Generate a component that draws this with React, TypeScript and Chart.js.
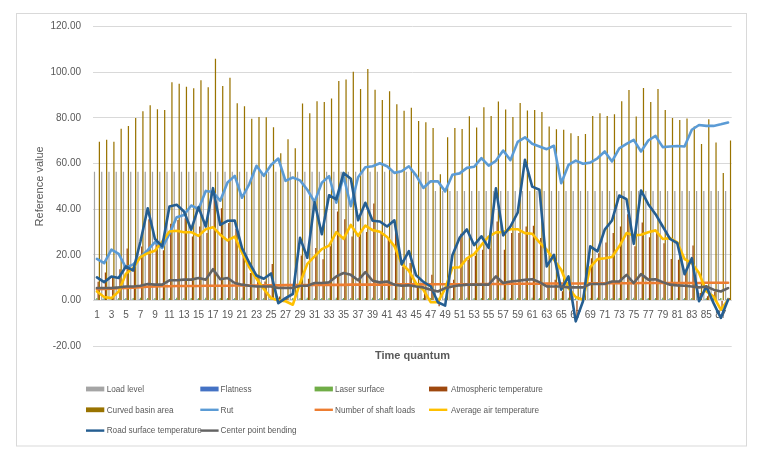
import React, { useEffect, useRef } from "react";
import { Chart, registerables } from "chart.js";
Chart.register(...registerables);

const categories = [
  "1","2","3","4","5","6","7","8","9","10","11","12","13","14","15","16","17","18","19","20",
  "21","22","23","24","25","26","27","28","29","30","31","32","33","34","35","36","37","38","39","40",
  "41","42","43","44","45","46","47","48","49","50","51","52","53","54","55","56","57","58","59","60",
  "61","62","63","64","65","66","67","68","69","70","71","72","73","74","75","76","77","78","79","80",
  "81","82","83","84","85","86","87","88",
];

const yTicks = [-20, 0, 20, 40, 60, 80, 100, 120];

const loadLevel = [
  56.4,56.4,56.4,56.4,56.4,56.4,56.4,56.4,56.4,56.4,
  56.4,56.4,56.4,56.4,56.4,56.4,56.4,56.4,56.4,56.4,
  56.4,56.4,56.4,56.4,56.4,56.4,56.4,56.4,56.4,56.4,
  56.4,56.4,56.4,56.4,56.4,56.4,56.4,56.4,56.4,56.4,
  56.4,56.4,56.4,56.4,56.4,56.4,56.4,48.0,48.0,48.0,
  48.0,48.0,48.0,48.0,48.0,48.0,48.0,48.0,48.0,48.0,
  48.0,48.0,48.0,48.0,48.0,48.0,48.0,48.0,48.0,48.0,
  48.0,48.0,48.0,48.0,48.0,48.0,48.0,48.0,48.0,48.0,
  48.0,48.0,48.0,48.0,48.0,48.0,48.0,48.0,
];

const flatness = [
  0.4,0.5,0.4,0.4,0.5,0.4,0.5,0.4,0.4,0.5,
  0.4,0.5,0.4,0.4,0.5,0.4,0.5,0.4,0.4,0.5,
  0.4,0.5,0.4,0.4,0.5,0.4,0.5,0.4,0.4,0.5,
  0.4,0.5,0.4,0.4,0.5,0.4,0.5,0.4,0.4,0.5,
  0.4,0.5,0.4,0.4,0.5,0.4,0.5,0.4,0.4,0.5,
  0.4,0.5,0.4,0.4,0.5,0.4,0.5,0.4,0.4,0.5,
  0.4,0.5,0.4,0.4,0.5,0.4,0.5,0.4,0.4,0.5,
  0.4,0.5,0.4,0.4,0.5,0.4,0.5,0.4,0.4,0.5,
  0.4,0.5,0.4,0.4,0.5,0.4,0.5,0.4,
];

const laserSurface = [
  1.1,1.0,1.2,1.1,1.0,1.1,1.2,1.0,1.1,1.1,
  1.0,1.2,1.1,1.0,1.1,1.2,1.0,1.1,1.1,1.0,
  1.2,1.1,1.0,1.1,1.2,1.0,1.1,1.1,1.0,1.2,
  1.1,1.0,1.1,1.2,1.0,1.1,1.1,1.0,1.2,1.1,
  1.0,1.1,1.2,1.0,1.1,1.1,1.0,1.2,1.1,1.0,
  1.1,1.2,1.0,1.1,1.1,1.0,1.2,1.1,1.0,1.1,
  1.2,1.0,1.1,1.1,1.0,1.2,1.1,1.0,1.1,1.2,
  1.0,1.1,1.1,1.0,1.2,1.1,1.0,1.1,1.2,1.0,
  1.1,1.1,1.0,1.2,1.1,1.0,1.1,1.2,
];

const atmosphericTemperature = [
  8.2,12.2,10.5,13.6,22.8,14.0,23.6,35.6,26.6,22.0,
  33.6,35.3,36.0,28.0,32.4,29.5,45.5,40.4,33.9,31.4,
  22.0,12.0,11.2,8.3,16.0,1.7,1.7,-0.4,19.7,9.5,
  23.0,18.0,23.7,39.0,35.6,28.0,28.0,30.0,42.5,29.5,
  27.3,30.7,14.9,16.4,6.1,4.0,11.2,-2.6,0.3,9.0,
  29.2,17.8,19.6,22.2,22.9,34.6,22.2,29.5,29.5,32.4,
  32.7,27.3,7.6,9.0,4.0,7.6,-8.0,0.3,18.5,20.7,
  25.4,29.5,32.4,37.8,23.7,34.2,27.7,29.5,25.1,18.1,
  17.8,12.7,24.1,3.2,1.8,3.9,-4.0,1.0,
];

const curvedBasinArea = [
  69.6,70.4,69.6,75.3,76.5,80.0,82.9,85.6,83.8,83.5,
  95.6,95.0,93.7,93.0,96.5,93.4,105.9,94.0,97.6,86.4,
  85.1,79.6,80.4,80.3,75.9,64.5,70.7,66.7,86.3,82.0,
  87.3,87.0,88.5,96.2,96.8,100.3,92.7,101.5,92.4,87.9,
  91.7,86.0,83.1,84.5,78.7,78.1,75.6,55.3,71.5,75.6,
  75.2,80.7,75.8,84.7,80.9,87.2,83.7,80.4,86.5,83.3,
  83.5,82.6,76.2,75.0,74.8,73.3,72.1,73.0,80.9,82.0,
  80.9,81.6,87.3,92.3,80.6,93.1,87.0,92.7,83.5,80.0,
  79.1,79.7,76.2,68.6,79.4,69.2,55.8,70.1,
];

const rut = [
  18.2,16.3,22.3,20.4,14.3,15.8,19.0,22.0,25.5,23.0,
  29.3,36.5,37.4,41.6,40.0,48.0,47.5,43.7,51.7,54.6,
  45.0,51.0,59.0,54.6,59.4,62.2,52.4,53.9,52.6,48.5,
  43.2,51.6,54.5,42.8,54.4,41.3,54.0,58.4,58.8,60.1,
  58.8,55.9,56.6,58.8,54.8,49.3,52.2,52.2,47.8,55.1,
  55.7,58.1,58.6,62.4,59.1,61.2,65.7,61.5,69.5,71.5,
  68.7,67.5,66.3,67.8,51.4,59.4,61.3,59.9,60.4,62.3,
  65.3,60.9,66.7,68.6,70.4,65.3,70.1,72.1,67.2,67.5,
  67.7,67.5,74.8,76.9,76.5,76.5,77.2,78.0,
];

const shaftLoads = [
  4.9,5.0,5.1,5.3,5.5,5.6,5.8,6.0,6.1,6.2,
  6.2,6.3,6.3,6.3,6.3,6.4,6.4,6.4,6.4,6.5,
  6.5,6.5,6.5,6.6,6.6,6.6,6.7,6.7,6.7,6.7,
  6.8,6.8,6.8,6.8,6.8,6.9,6.9,6.9,6.9,6.9,
  6.9,7.0,7.0,7.0,7.0,7.0,7.0,7.1,7.1,7.1,
  7.1,7.1,7.1,7.2,7.2,7.2,7.2,7.3,7.3,7.3,
  7.3,7.3,7.4,7.4,7.4,7.4,7.4,7.4,7.5,7.5,
  7.5,7.5,7.5,7.5,7.5,7.6,7.6,7.6,7.6,7.6,
  7.6,7.6,7.6,7.6,7.7,7.7,7.7,7.7,
];

const averageAirTemperature = [
  3.9,1.5,1.0,3.9,11.7,14.2,19.0,20.7,21.8,25.8,
  30.2,30.5,29.9,29.9,28.3,31.2,32.1,28.8,26.3,28.0,
  21.0,14.5,9.5,5.0,1.0,0.0,-0.4,-1.9,7.6,16.0,
  19.3,22.5,24.0,29.9,27.0,33.1,28.3,32.8,30.8,30.1,
  27.8,23.8,16.1,13.0,7.4,4.6,-0.8,-0.8,5.2,14.3,
  14.5,18.4,20.3,24.3,28.0,29.8,30.0,31.2,31.2,29.5,
  29.2,25.4,22.2,17.8,13.4,5.4,1.5,0.3,14.6,18.1,
  18.5,19.0,23.7,29.5,28.5,28.8,29.9,30.7,26.9,27.3,
  25.4,18.1,16.4,12.0,3.9,1.8,-4.1,0.3,
];

const roadSurfaceTemperature = [
  10.1,8.0,10.5,9.8,14.9,13.1,25.8,40.4,26.9,23.7,
  41.2,41.9,39.0,31.0,40.9,32.4,49.2,33.1,34.9,35.0,
  22.9,16.5,10.9,9.5,11.8,-1.2,1.0,2.8,27.4,18.7,
  43.0,29.0,46.1,44.3,55.9,53.3,35.1,42.8,34.9,34.6,
  32.4,35.1,15.8,21.6,11.0,8.1,6.2,-0.8,-2.3,19.8,
  27.5,31.1,24.2,28.1,23.0,49.1,28.5,32.4,38.5,61.6,
  49.9,48.5,14.9,20.0,4.7,10.5,-9.2,-0.4,23.7,21.5,
  31.0,35.0,46.0,44.4,24.8,48.2,42.2,37.8,32.4,27.0,
  25.1,11.5,18.5,-0.4,6.1,-1.2,-7.7,0.3,
];

const centerPointBending = [
  5.4,5.4,5.4,5.7,6.1,6.1,6.4,7.2,6.9,6.9,
  8.8,8.8,9.1,9.1,9.8,9.1,13.7,9.3,9.8,7.6,
  6.9,6.4,6.1,6.1,6.1,5.4,5.4,5.4,6.4,6.4,
  7.6,7.6,7.9,10.5,12.0,11.2,8.8,12.4,8.6,7.9,
  8.3,6.9,6.4,6.6,6.1,5.7,4.7,3.9,5.4,6.1,
  6.6,6.9,6.9,6.9,6.9,10.5,7.6,8.3,8.6,9.0,
  9.3,8.0,6.1,6.1,6.1,5.7,5.7,5.7,7.2,7.2,
  7.2,8.3,8.3,11.2,7.6,11.5,9.1,9.3,8.0,6.9,
  6.6,6.4,6.1,5.7,6.1,4.7,3.9,5.4,
];

const FONT = "'Liberation Sans', Arial, sans-serif";
const TEXT = "#595959";
const GRID = "#d9d9d9";

const legendPlugin = {
  id: "gridLegend",
  afterDraw(chart: any) {
    const ctx = chart.ctx;
    const colSwatch = [86, 200.3, 314.6, 429];
    const colText = [106.7, 220.6, 335, 451];
    const rowY = [389, 409.8, 430.6];
    ctx.save();
    ctx.font = `8.2px ${FONT}`;
    ctx.textBaseline = "middle";
    ctx.textAlign = "left";
    chart.data.datasets.forEach((ds: any, i: number) => {
      const col = i % 4;
      const row = Math.floor(i / 4);
      const x = colSwatch[col];
      const y = rowY[row];
      ctx.fillStyle = ds.type === "line" ? ds.borderColor : ds.backgroundColor;
      if (ds.type === "line") {
        ctx.fillRect(x, y - 1.2, 18.3, 2.4);
      } else {
        ctx.fillRect(x, y - 2.4, 18.3, 4.8);
      }
      ctx.fillStyle = TEXT;
      ctx.fillText(ds.label, colText[col], y + 0.5);
    });
    ctx.restore();
  },
};

const borderPlugin = {
  id: "outerBorder",
  beforeDraw(chart: any) {
    const ctx = chart.ctx;
    ctx.save();
    ctx.fillStyle = "#ffffff";
    ctx.fillRect(0, 0, chart.width, chart.height);
    ctx.strokeStyle = GRID;
    ctx.lineWidth = 1;
    ctx.strokeRect(16.5, 13.5, 730, 432.5);
    ctx.restore();
  },
};

export default function App() {
  const ref = useRef<HTMLCanvasElement>(null);

  useEffect(() => {
    if (!ref.current) return;
    const bar = (label: string, data: number[], color: string) => ({
      type: "bar" as const,
      label,
      data,
      backgroundColor: color,
      borderWidth: 0,
      order: 10,
      categoryPercentage: 0.85,
      barPercentage: 1.0,
    });
    const line = (label: string, data: number[], color: string, order: number) => ({
      type: "line" as const,
      label,
      data,
      borderColor: color,
      backgroundColor: color,
      borderWidth: 2.6,
      pointRadius: 0,
      pointHoverRadius: 0,
      tension: 0,
      order,
      borderJoinStyle: "round" as const,
      borderCapStyle: "round" as const,
    });

    const chart = new Chart(ref.current, {
      type: "bar",
      data: {
        labels: categories,
        datasets: [
          bar("Load level", loadLevel, "#A5A5A5"),
          bar("Flatness", flatness, "#4472C4"),
          bar("Laser surface", laserSurface, "#70AD47"),
          bar("Atmospheric temperature", atmosphericTemperature, "#9E480E"),
          bar("Curved basin area", curvedBasinArea, "#997300"),
          line("Rut", rut, "#5B9BD5", 5),
          line("Number of shaft loads", shaftLoads, "#ED7D31", 4),
          line("Average air temperature", averageAirTemperature, "#FFC000", 3),
          line("Road surface temperature", roadSurfaceTemperature, "#255E91", 2),
          line("Center point bending", centerPointBending, "#636363", 1),
        ] as any,
      },
      options: {
        animation: false,
        responsive: true,
        maintainAspectRatio: false,
        layout: { padding: { left: 16, right: 31.3, top: 26.7, bottom: 108 } },
        plugins: {
          legend: { display: false },
          tooltip: { enabled: false },
        },
        scales: {
          x: {
            position: { y: 0 } as any,
            grid: { display: false, drawTicks: false },
            border: { display: true, color: GRID, width: 1 },
            ticks: {
              autoSkip: false,
              maxRotation: 0,
              minRotation: 0,
              padding: 8.6,
              color: TEXT,
              font: { family: FONT, size: 10 },
              callback: (_v: any, i: number) => (i % 2 === 0 ? categories[i] : ""),
            },
            title: {
              display: true,
              text: "Time quantum",
              color: TEXT,
              font: { family: FONT, size: 11, weight: "bold" },
              padding: { top: 0, bottom: 7.8 },
            },
            afterFit: (s: any) => {
              s.height = 70;
            },
          },
          y: {
            min: -20,
            max: 120,
            afterBuildTicks: (s: any) => {
              s.ticks = yTicks.map((v) => ({ value: v }));
            },
            ticks: {
              padding: 12.3,
              color: TEXT,
              font: { family: FONT, size: 10 },
              callback: (v: any) => Number(v).toFixed(2),
            },
            grid: { color: GRID, drawTicks: false, lineWidth: 1 },
            border: { display: false },
            title: {
              display: true,
              text: "Reference value",
              color: TEXT,
              font: { family: FONT, size: 11 },
              padding: { top: 17.4, bottom: 0 },
            },
            afterFit: (s: any) => {
              s.width = 77.3;
            },
          },
        },
      },
      plugins: [borderPlugin, legendPlugin],
    });
    return () => chart.destroy();
  }, []);

  return (
    <div style={{ position: "absolute", left: 0, top: 0, width: 763, height: 454 }}>
      <canvas ref={ref} />
    </div>
  );
}
